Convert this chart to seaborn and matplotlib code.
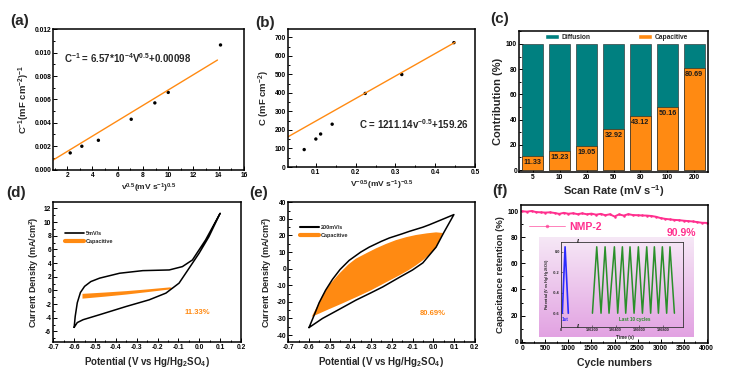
import numpy as np
import pandas as pd
import matplotlib
matplotlib.use('Agg')
import matplotlib.pyplot as plt
import seaborn as sns
from matplotlib.lines import Line2D
from matplotlib.patches import Patch
from matplotlib.ticker import AutoMinorLocator
from matplotlib.colors import LinearSegmentedColormap

# ---------------- data ----------------
# (a) inverse capacitance vs v^0.5
a_x = [2.24, 3.16, 4.47, 7.07, 8.94, 10.0, 14.14]
a_y = [0.00142, 0.00199, 0.0025, 0.0043, 0.0057, 0.0066, 0.01066]
a_fit_x = [0.9, 13.9]
a_fit_y = [0.00082, 0.00937]

# (b) capacitance vs v^-0.5
b_x = [0.0707, 0.100, 0.112, 0.141, 0.224, 0.316, 0.447]
b_y = [94, 151, 178, 231, 397, 499, 671]
b_fit_x = [0.03, 0.45]
b_fit_y = [163, 673]

# (c) contribution
scan_rates = ['5', '10', '20', '50', '80', '100', '200']
capacitive = [11.33, 15.23, 19.05, 32.92, 43.12, 50.16, 80.69]
total = [100, 100, 100, 100, 100, 100, 100]

# (d) CV at 5 mV/s
d_cv_x = [-0.600, -0.595, -0.585, -0.570, -0.550, -0.520, -0.478, -0.382, -0.271, -0.144,
          -0.081, -0.033, 0.030, 0.100,
          0.046, -0.001, -0.049, -0.097, -0.160, -0.240, -0.350, -0.478, -0.557, -0.585, -0.600]
d_cv_y = [-5.4, -3.8, -1.8, -0.3, 0.6, 1.3, 1.8, 2.52, 2.9, 3.0,
          3.49, 4.46, 7.38, 11.3,
          7.86, 5.44, 3.25, 1.07, -0.39, -1.37, -2.34, -3.55, -4.28, -4.7, -5.4]
d_cap_x = [-0.56, -0.45, -0.35, -0.25, -0.14, -0.125, -0.14, -0.25, -0.35, -0.45, -0.56]
d_cap_y = [-0.5, -0.3, -0.1, 0.15, 0.45, 0.32, 0.15, -0.25, -0.6, -0.9, -1.2]

# (e) CV at 200 mV/s
e_cv_x = [-0.600, -0.575, -0.551, -0.520, -0.487, -0.450, -0.406, -0.350, -0.309, -0.250,
          -0.212, -0.150, -0.115, -0.050, -0.018, 0.050, 0.100,
          0.050, 0.014, -0.050, -0.100, -0.163, -0.244, -0.300, -0.374, -0.454, -0.535, -0.600]
e_cv_y = [-35.5, -28.0, -20.5, -13.0, -6.5, -0.5, 5.0, 10.0, 13.0, 16.5,
          18.5, 21.0, 22.5, 25.0, 26.5, 30.0, 32.6,
          21.5, 13.0, 3.5, -0.8, -5.2, -11.0, -14.5, -19.0, -24.5, -30.0, -35.5]
e_cap_x = [-0.587, -0.560, -0.535, -0.500, -0.454, -0.410, -0.374, -0.320, -0.277, -0.230,
           -0.180, -0.130, -0.083, -0.030, 0.014, 0.047,
           0.030, 0.014, -0.018, -0.050, -0.083, -0.120, -0.163, -0.244, -0.300, -0.374,
           -0.440, -0.503, -0.550, -0.587]
e_cap_y = [-29.0, -22.5, -16.0, -9.5, -3.0, 2.5, 6.0, 9.5, 12.2, 14.8,
           17.2, 19.0, 20.3, 21.3, 21.9, 21.5,
           17.0, 12.5, 8.5, 5.0, 2.0, -1.0, -4.0, -9.3, -13.0, -17.3,
           -21.0, -24.4, -27.0, -29.0]

# (f) cycling stability
cycles = [0, 100, 200, 300, 400, 500, 600, 700, 800, 900, 1000, 1100, 1200, 1300, 1400,
          1500, 1600, 1700, 1800, 1900, 2000, 2100, 2200, 2300, 2400, 2500, 2600, 2700,
          2800, 2900, 3000, 3100, 3200, 3300, 3400, 3500, 3600, 3700, 3800, 3900, 4000]
retention = [99.8, 99.5, 100.0, 99.2, 99.0, 98.8, 99.0, 98.5, 97.8, 98.6, 97.9, 98.3, 97.6,
             98.2, 97.5, 98.0, 97.2, 97.8, 96.8, 97.5, 95.8, 97.4, 96.5, 97.6, 96.9, 96.8,
             96.6, 96.5, 96.2, 95.6, 94.6, 94.0, 93.6, 93.2, 93.0, 92.6, 92.3, 92.0, 91.5,
             91.0, 90.9]
first_t = [11, 34, 61]
first_v = [-0.60, 0.05, -0.60]
last_t = [126206, 126242, 126278, 126312, 126345, 126390, 126418, 126457, 126485, 126521,
          126555, 126591, 126625, 126661, 126694, 126725, 126759, 126792, 126828, 126856,
          126893]
last_v = [-0.60, 0.05, -0.60, 0.05, -0.60, 0.05, -0.60, 0.05, -0.60, 0.05,
          -0.60, 0.05, -0.60, 0.05, -0.60, 0.05, -0.60, 0.05, -0.60, 0.05, -0.60]

# ---------------- style ----------------
sns.set_style('ticks')
plt.rcParams['font.family'] = ['Liberation Sans', 'DejaVu Sans']
plt.rcParams['font.weight'] = 'bold'
plt.rcParams['axes.labelweight'] = 'bold'
plt.rcParams['mathtext.fontset'] = 'custom'
plt.rcParams['mathtext.rm'] = 'Liberation Sans:bold'
plt.rcParams['mathtext.bf'] = 'Liberation Sans:bold'
plt.rcParams['mathtext.it'] = 'Liberation Sans:bold'
plt.rcParams['mathtext.default'] = 'bf'
plt.rcParams['axes.unicode_minus'] = False

ORANGE = '#ff8a12'
TEAL = '#008080'
PINK = '#ff2f8e'

W, H = 737, 381
fig = plt.figure(figsize=(W / 100, H / 100), dpi=100)


def box(l, t, r, b):
    return [l / W, 1 - b / H, (r - l) / W, (b - t) / H]


def style(ax, fs=4.8, minor=True):
    for s in ax.spines.values():
        s.set_linewidth(1.1)
        s.set_color('black')
        s.set_visible(True)
    ax.tick_params(which='both', direction='in', width=0.7, labelsize=fs, pad=1.5,
                   top=False, right=False, colors='black')
    ax.tick_params(which='major', length=3)
    ax.tick_params(which='minor', length=1.6)
    if minor:
        ax.xaxis.set_minor_locator(AutoMinorLocator(2))
        ax.yaxis.set_minor_locator(AutoMinorLocator(2))


# ---------------- (a) ----------------
axA = fig.add_axes(box(53.3, 29.3, 244, 169.5))
sns.lineplot(x=a_fit_x, y=a_fit_y, color=ORANGE, lw=1.0, ax=axA)
sns.scatterplot(x=a_x, y=a_y, color='black', s=6, marker='o', edgecolor='none', ax=axA)
axA.set_xlim(0.9, 16)
axA.set_ylim(0, 0.012)
axA.set_xticks(range(2, 17, 2))
yt = [0, 0.002, 0.004, 0.006, 0.008, 0.010, 0.012]
axA.set_yticks(yt)
axA.set_yticklabels([f'{v:.3f}' for v in yt])
style(axA)
axA.set_xlabel(r'v$^{0.5}$(mV s$^{-1}$)$^{0.5}$', fontsize=6, labelpad=2)
axA.set_ylabel(r'C$^{-1}$(mF cm$^{-2}$)$^{-1}$', fontsize=6.8, labelpad=2)
axA.text(1.75, 0.0095, r'C$^{-1}$ = 6.57*10$^{-4}$V$^{0.5}$+0.00098', fontsize=7, va='center')

# ---------------- (b) ----------------
axB = fig.add_axes(box(288, 29.3, 475, 167))
sns.lineplot(x=b_fit_x, y=b_fit_y, color=ORANGE, lw=1.0, ax=axB)
sns.scatterplot(x=b_x, y=b_y, color='black', s=6, marker='o', edgecolor='none', ax=axB)
axB.set_xlim(0.03, 0.5)
axB.set_ylim(0, 743)
axB.set_xticks([0.1, 0.2, 0.3, 0.4, 0.5])
axB.set_xticklabels(['0.1', '0.2', '0.3', '0.4', '0.5'])
axB.set_yticks(range(0, 701, 100))
style(axB)
axB.set_xlabel(r'V$^{-0.5}$(mV s$^{-1}$)$^{-0.5}$', fontsize=6, labelpad=2)
axB.set_ylabel(r'C (mF cm$^{-2}$)', fontsize=6.8, labelpad=2)
axB.text(0.208, 232, r'C = 1211.14v$^{-0.5}$+159.26', fontsize=7, va='center')

# ---------------- (c) ----------------
axC = fig.add_axes(box(519.3, 30.7, 708.3, 171.7))
dfc = pd.DataFrame({'rate': scan_rates, 'total': total, 'cap': capacitive})
sns.barplot(data=dfc, x='rate', y='total', color=TEAL, saturation=1, width=0.78,
            edgecolor='#222222', linewidth=0.4, ax=axC)
sns.barplot(data=dfc, x='rate', y='cap', color=ORANGE, saturation=1, width=0.78,
            edgecolor='#222222', linewidth=0.4, ax=axC)
for p, v in zip(axC.containers[1], capacitive):
    axC.text(p.get_x() + p.get_width() / 2, p.get_height() - 5.3, f'{v:.2f}',
             ha='center', va='center', fontsize=5.2, color='#1a1a1a')
axC.set_xlim(-0.5, 6.52)
axC.set_ylim(-1.3, 110.5)
axC.set_yticks(range(0, 101, 20))
style(axC, minor=False)
axC.yaxis.set_minor_locator(AutoMinorLocator(2))
axC.tick_params(axis='x', which='both', length=2.5)
axC.set_xlabel(r'Scan Rate (mV s$^{-1}$)', fontsize=8, labelpad=1.5)
axC.set_ylabel('Contribution (%)', fontsize=8, labelpad=2)
axC.legend(handles=[Patch(facecolor=TEAL), Patch(facecolor=ORANGE)],
           labels=['Diffusion', 'Capacitive'], ncol=2, frameon=False, fontsize=4.8,
           loc='center left', bbox_to_anchor=(0.12, 0.953), columnspacing=7.0,
           handlelength=2.2, handleheight=0.9, handletextpad=0.4, borderaxespad=0)

# ---------------- (d) ----------------
axD = fig.add_axes(box(53.3, 202.3, 241, 341.7))
axD.fill(d_cap_x, d_cap_y, color=ORANGE, lw=0, zorder=2)
sns.lineplot(x=d_cv_x, y=d_cv_y, sort=False, estimator=None, color='black', lw=1.1, ax=axD)
axD.set_xlim(-0.7, 0.2)
axD.set_ylim(-7.5, 12.9)
xt = [-0.7, -0.6, -0.5, -0.4, -0.3, -0.2, -0.1, 0.0, 0.1, 0.2]
axD.set_xticks(xt)
axD.set_xticklabels([f'{v:.1f}' for v in xt])
axD.set_yticks(range(-6, 13, 2))
style(axD)
axD.set_xlabel(r'Potential (V vs Hg/Hg$_2$SO$_4$)', fontsize=7, labelpad=3)
axD.set_ylabel(r'Current Density (mA/cm$^2$)', fontsize=6.5, labelpad=2)
axD.legend(handles=[Line2D([], [], color='black', lw=1.2), Line2D([], [], color=ORANGE, lw=3)],
           labels=['5mV/s', 'Capacitive'], frameon=False, fontsize=4, loc='upper left',
           bbox_to_anchor=(0.05, 0.81), handlelength=3.5, handletextpad=0.2, labelspacing=0.5,
           borderaxespad=0)
axD.text(-0.01, -3.3, '11.33%', color=ORANGE, fontsize=5.5, ha='center', va='center')

# ---------------- (e) ----------------
axE = fig.add_axes(box(288.3, 202.3, 474.6, 341.7))
axE.fill(e_cap_x, e_cap_y, color=ORANGE, lw=0, zorder=2)
sns.lineplot(x=e_cv_x, y=e_cv_y, sort=False, estimator=None, color='black', lw=1.1, ax=axE)
axE.set_xlim(-0.7, 0.2)
axE.set_ylim(-44, 40)
axE.set_xticks(xt)
axE.set_xticklabels([f'{v:.1f}' for v in xt])
axE.set_yticks(range(-40, 41, 10))
style(axE)
axE.set_xlabel(r'Potential (V vs Hg/Hg$_2$SO$_4$)', fontsize=7, labelpad=3)
axE.set_ylabel(r'Current Density (mA/cm$^2$)', fontsize=6.5, labelpad=2)
axE.legend(handles=[Line2D([], [], color='black', lw=1.5), Line2D([], [], color=ORANGE, lw=3)],
           labels=['200mV/s', 'Capacitive'], frameon=False, fontsize=4, loc='upper left',
           bbox_to_anchor=(0.05, 0.85), handlelength=3.5, handletextpad=0.2, labelspacing=0.5,
           borderaxespad=0)
axE.text(0.0, -27, '80.69%', color=ORANGE, fontsize=5.5, ha='center', va='center')

# ---------------- (f) ----------------
axF = fig.add_axes(box(520.7, 205, 708.3, 343.3))
grad = np.linspace(0, 1, 256).reshape(-1, 1)
pcmap = LinearSegmentedColormap.from_list('pk', ['#f6e8f6', '#e2a2e2'])
axF.imshow(grad, extent=[369, 3725, 3.4, 79.9], aspect='auto', cmap=pcmap,
           origin='upper', zorder=0)
sns.lineplot(x=cycles, y=retention, color=PINK, lw=1.4, marker='o', markersize=1.8,
             markeredgewidth=0, ax=axF)
axF.set_xlim(-35, 4035)
axF.set_ylim(-1.2, 104.6)
axF.set_xticks(range(0, 4001, 500))
axF.set_yticks(range(0, 101, 20))
style(axF)
axF.set_xlabel('Cycle numbers', fontsize=7.6, labelpad=4)
axF.set_ylabel('Capacitance retention (%)', fontsize=6.8, labelpad=2)
axF.legend(handles=[Line2D([], [], color=PINK, lw=0.6, alpha=0.7, marker='o', markersize=2.5,
                           markerfacecolor=PINK, markeredgewidth=0)],
           labels=['NMP-2'], frameon=False, fontsize=7.5, loc='center left',
           bbox_to_anchor=(0.02, 0.843), handlelength=3.5, handletextpad=0.4,
           labelcolor=PINK, borderaxespad=0)
axF.text(3442, 83, '90.9%', color=PINK, fontsize=7.5, ha='center', va='center')

# inset (broken time axis)
insL = fig.add_axes(box(561, 241.7, 578, 326.5))
insR = fig.add_axes(box(578, 241.7, 683, 326.5))
for ax in (insL, insR):
    ax.set_facecolor('none')
    for s in ax.spines.values():
        s.set_linewidth(0.6)
        s.set_color('#333333')
    ax.tick_params(which='both', direction='in', width=0.4, length=1.2, labelsize=2.8, pad=0.8)
    ax.set_ylim(-0.73, 0.1)
sns.lineplot(x=first_t, y=first_v, sort=False, estimator=None, color='#2a2aff', lw=1.2, ax=insL)
sns.lineplot(x=last_t, y=last_v, sort=False, estimator=None, color='#2a8f2a', lw=1.1, ax=insR)
insL.set_xlim(0, 142)
insR.set_xlim(126085, 126965)
insL.spines['right'].set_visible(False)
insR.spines['left'].set_visible(False)
insL.set_xticks([0])
insL.set_yticks([-0.6, -0.4, -0.2, 0.0])
insL.set_yticklabels(['-0.6', '-0.4', '-0.2', '0.0'])
insR.set_yticks([])
insR.set_xticks([126200, 126400, 126600, 126800])
insL.set_ylabel(r'Potential (V vs Hg/Hg$_2$SO$_4$)', fontsize=2.8, labelpad=1.5)
insR.set_xlabel('Time (s)', fontsize=3.3)
insR.xaxis.set_label_coords(0.45, -0.1)
insL.text(38, -0.66, '1st', color='#2a2aff', fontsize=3.3, ha='center', va='center')
insR.text(126560, -0.66, 'Last 10 cycles', color='#2a8f2a', fontsize=3.3, ha='center', va='center')
fig.text(578.3 / W, 1 - 241.7 / H, '//', fontsize=4, ha='center', va='center', color='#333333')
fig.text(578.3 / W, 1 - 326.5 / H, '//', fontsize=4, ha='center', va='center', color='#333333')

# ---------------- panel letters ----------------
for lab, (px, py) in {'(a)': (19.5, 21.5), '(b)': (265, 23.5), '(c)': (500, 18.5),
                      '(d)': (16.5, 192.5), '(e)': (258.5, 192.5), '(f)': (500, 191.5)}.items():
    fig.text(px / W, 1 - py / H, lab, fontsize=11, fontweight='bold', ha='center', va='center')

fig.savefig('out.png', dpi=100)
